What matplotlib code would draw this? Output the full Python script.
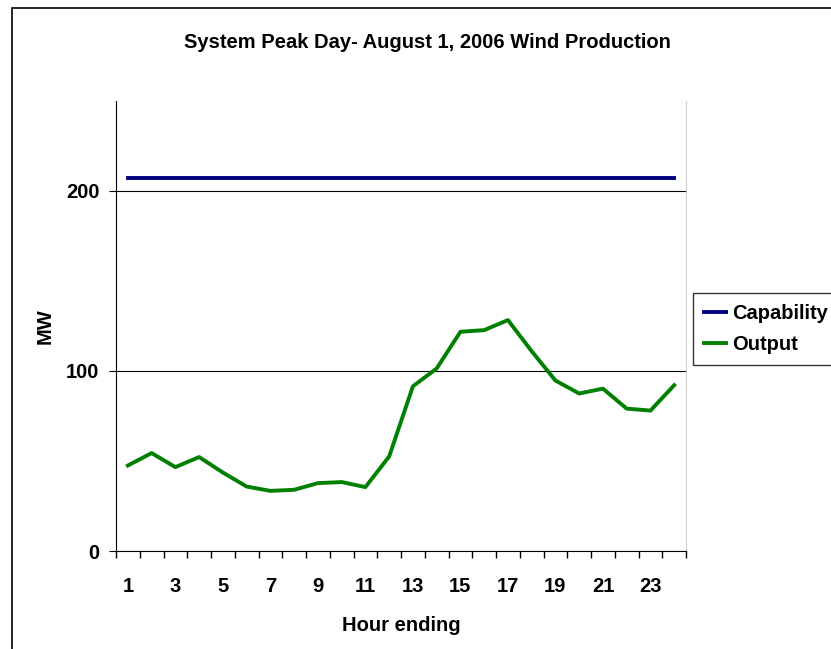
import numpy as np
import matplotlib.pyplot as plt
from matplotlib.patches import Rectangle

plt.rcParams['font.family'] = ['Liberation Sans', 'DejaVu Sans']
plt.rcParams['font.weight'] = 'bold'

hours = list(range(1, 25))
capability = [207] * 24
output = [47.5, 54.4, 46.6, 52.2, 43.6, 35.8, 33.4, 34.0, 37.7, 38.3, 35.5, 52.5,
          91.5, 101.4, 121.8, 122.7, 128.3, 111.0, 94.7, 87.5, 90.2, 79.1, 78.0, 92.1]
tick_labels = [str(h) for h in range(1, 24, 2)]

fig = plt.figure(figsize=(8.31, 6.49), dpi=100)
ax = fig.add_axes([0.1396, 0.151, 0.686, 0.6934])

# outer chart border
fig.patches.append(Rectangle((12 / 831, -0.01), 1.0, (649 - 8) / 649 + 0.01,
                             transform=fig.transFigure, fill=False,
                             edgecolor='black', linewidth=1.2))

ax.plot(hours, capability, color='#000080', linewidth=2.8, label='Capability')
ax.plot(hours, output, color='#008000', linewidth=2.8, label='Output')

ax.set_xlim(0.5, 24.5)
ax.set_ylim(0, 250)
ax.set_yticks([0, 100, 200])
ax.yaxis.grid(True, color='black', linewidth=0.8)
ax.set_axisbelow(True)

ax.set_xticks(np.arange(0.5, 25, 1))
ax.set_xticklabels([])
ax.tick_params(axis='x', which='major', length=5, direction='out', width=1)
ax.set_xticks(range(1, 24, 2), minor=True)
ax.set_xticklabels(tick_labels, minor=True)
ax.tick_params(axis='x', which='minor', length=0, pad=19, labelsize=14.5)
ax.tick_params(axis='y', length=5, direction='out', labelsize=14.5, pad=7)

ax.spines['top'].set_visible(False)
ax.spines['right'].set_color('#d0d0d0')

ax.set_xlabel('Hour ending', fontsize=14.5, fontweight='bold', labelpad=14)
ax.set_ylabel('MW', fontsize=14.5, fontweight='bold', labelpad=8)
fig.text(0.514, 0.935, 'System Peak Day- August 1, 2006 Wind Production',
         ha='center', va='center', fontsize=14.5, fontweight='bold')

leg = fig.legend(loc='upper left', bbox_to_anchor=(0.834, 0.549), frameon=True,
                 fancybox=False, edgecolor='black', fontsize=14.5,
                 handlelength=1.1, handletextpad=0.3, borderpad=0.55,
                 labelspacing=0.6, borderaxespad=0)
leg.get_frame().set_linewidth(1)

fig.savefig('out.png', dpi=100)
